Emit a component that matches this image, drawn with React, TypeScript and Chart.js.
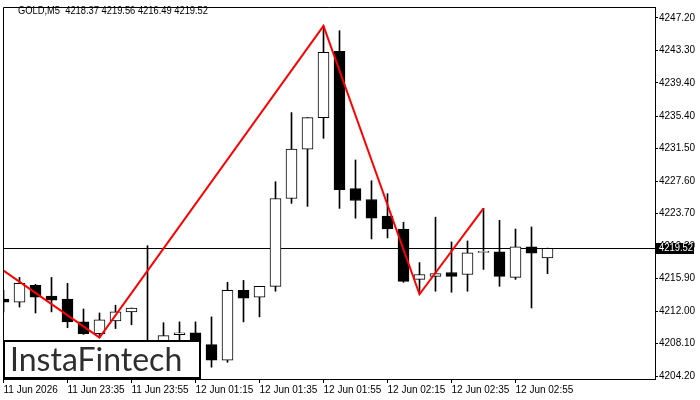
import React, { useEffect, useRef } from 'react';
import { Chart, registerables } from 'chart.js';

Chart.register(...registerables);

const symbol = 'GOLD,M5';

// OHLC, one candle every 5 minutes (index 0 = 11 Jun 23:15)
const opens = [
  4213.43, 4213.08, 4215.09, 4213.79, 4213.43, 4210.7, 4209.29, 4210.83, 4211.9, 4207.6,
  4208.3, 4209.17, 4209.4, 4207.98, 4206.09, 4214.5, 4213.67, 4214.97, 4225.52, 4231.44,
  4235.23, 4243.17, 4226.7, 4225.4, 4223.4, 4221.85, 4215.8, 4216.16, 4216.63, 4216.39,
  4219.04, 4219.12, 4216.04, 4219.7, 4218.37,
];
const highs = [
  4214.5, 4216.04, 4215.2, 4216.04, 4215.33, 4212.25, 4211.77, 4212.7, 4212.37, 4219.85,
  4210.6, 4210.7, 4210.7, 4211.3, 4215.45, 4215.68, 4214.97, 4227.53, 4235.83, 4235.23,
  4246.25, 4245.66, 4230.14, 4227.65, 4226.1, 4222.67, 4217.82, 4223.27, 4220.3, 4220.42,
  4224.33, 4222.9, 4221.85, 4222.1, 4219.56,
];
const lows = [
  4211.9, 4212.48, 4211.77, 4211.9, 4210.0, 4209.2, 4208.8, 4209.9, 4210.35, 4205.9,
  4207.5, 4207.8, 4207.4, 4205.26, 4205.85, 4210.7, 4211.3, 4214.38, 4224.93, 4224.57,
  4232.74, 4224.33, 4223.15, 4220.66, 4220.78, 4215.45, 4214.14, 4214.38, 4214.26, 4214.38,
  4217.0, 4214.97, 4215.8, 4212.37, 4216.49,
];
const closes = [
  4213.08, 4215.33, 4213.67, 4213.31, 4210.7, 4209.3, 4210.94, 4211.9, 4212.37, 4207.9,
  4209.05, 4209.4, 4208.2, 4206.09, 4214.5, 4213.55, 4214.97, 4225.52, 4231.44, 4235.23,
  4243.05, 4226.58, 4225.28, 4223.15, 4221.85, 4215.57, 4216.39, 4216.51, 4216.16, 4219.0,
  4219.16, 4216.16, 4219.7, 4218.96, 4219.52,
];

// Red zigzag pattern pivots
const zigzagIndex = [0, 6, 20, 26, 30];
const zigzagPrice = [4216.87, 4208.81, 4246.25, 4214.02, 4224.33];

// Axis ticks
const xTickIndex = [0, 4, 8, 12, 16, 20, 24, 28, 32];
const xTickLabels = [
  '11 Jun 2026', '11 Jun 23:35', '11 Jun 23:55', '12 Jun 01:15', '12 Jun 01:35',
  '12 Jun 01:55', '12 Jun 02:15', '12 Jun 02:35', '12 Jun 02:55',
];
const yTickValues = [
  4204.2, 4208.1, 4212.0, 4215.9, 4219.8, 4223.7, 4227.6, 4231.5, 4235.4, 4239.4, 4243.3, 4247.2,
];
const logoText = 'InstaFintech';

const FONT = '"Liberation Sans", Arial, sans-serif';

export default function App() {
  const ref = useRef<HTMLCanvasElement | null>(null);

  useEffect(() => {
    if (!ref.current) return;
    const n = closes.length;
    const last = n - 1;
    const titleText = `${symbol}  ${opens[last].toFixed(2)} ${highs[last].toFixed(2)} ${lows[last].toFixed(2)} ${closes[last].toFixed(2)}`;

    const overlay = {
      id: 'overlay',
      beforeDatasetsDraw(chart: any) {
        const { ctx, chartArea: a, scales } = chart;
        const py = Math.round(scales.y.getPixelForValue(closes[last])) + 0.5;
        ctx.save();
        ctx.strokeStyle = '#000';
        ctx.lineWidth = 1;
        ctx.beginPath();
        ctx.moveTo(a.left, py);
        ctx.lineTo(a.right, py);
        ctx.stroke();
        ctx.restore();
      },
      afterDraw(chart: any) {
        const { ctx, chartArea: a, scales } = chart;
        ctx.save();
        // frame top / left
        ctx.strokeStyle = '#000';
        ctx.lineWidth = 1;
        ctx.beginPath();
        ctx.moveTo(a.left + 0.5, a.bottom);
        ctx.lineTo(a.left + 0.5, a.top + 0.5);
        ctx.lineTo(a.right, a.top + 0.5);
        ctx.stroke();

        // title
        ctx.fillStyle = '#000';
        ctx.font = `10px ${FONT}`;
        ctx.textBaseline = 'middle';
        ctx.textAlign = 'left';
        ctx.fillText(titleText, 18, 11, 190);

        // price label
        const py = Math.round(scales.y.getPixelForValue(closes[last]));
        ctx.fillStyle = '#000';
        ctx.fillRect(656, py - 5, 38, 11);
        ctx.fillStyle = '#fff';
        ctx.fillText(closes[last].toFixed(2), 659, py + 0.5, 34);

        // logo box
        ctx.fillStyle = '#fff';
        ctx.fillRect(4, 341, 196, 37);
        ctx.strokeStyle = '#000';
        ctx.lineWidth = 2;
        ctx.strokeRect(4, 341, 196, 37);
        ctx.fillStyle = '#2e2e2e';
        ctx.font = `32px Lato, "Open Sans", sans-serif`;
        ctx.textBaseline = 'alphabetic';
        ctx.fillText(logoText, 10, 371, 173);
        ctx.restore();
      },
    };

    const chart = new Chart(ref.current, {
      type: 'bar',
      data: {
        datasets: [
          {
            type: 'line',
            data: zigzagIndex.map((x, i) => ({ x, y: zigzagPrice[i] })),
            borderColor: '#ff0000',
            borderWidth: 2,
            pointRadius: 0,
            tension: 0,
            fill: false,
            order: 0,
            clip: 0,
          } as any,
          {
            type: 'bar',
            data: closes.map((c, i) => ({ x: i, y: [opens[i], c] })),
            backgroundColor: closes.map((c, i) => (c >= opens[i] ? '#ffffff' : '#000000')),
            borderColor: '#000',
            borderWidth: 1,
            borderSkipped: false,
            barThickness: 11,
            grouped: false,
            order: 1,
            clip: 0,
          } as any,
          {
            type: 'bar',
            data: closes.map((_, i) => ({ x: i, y: [lows[i], highs[i]] })),
            backgroundColor: '#000',
            borderWidth: 0,
            barThickness: 1,
            grouped: false,
            order: 2,
            clip: 0,
          } as any,
        ],
      },
      options: {
        responsive: false,
        animation: false,
        events: [],
        layout: { padding: { left: 3, top: 3, right: 0, bottom: 0 } },
        plugins: { legend: { display: false }, tooltip: { enabled: false } },
        scales: {
          x: {
            type: 'linear',
            offset: false,
            min: -0.03125,
            max: 40.71875,
            afterBuildTicks: (s: any) => {
              s.ticks = xTickIndex.map((v) => ({ value: v }));
            },
            afterFit: (s: any) => {
              s.height = 21;
            },
            ticks: {
              autoSkip: false,
              maxRotation: 0,
              align: 'start',
              padding: 1,
              color: '#000',
              font: { family: FONT, size: 10 },
              callback: (v: any) => {
                const k = xTickIndex.indexOf(Number(v));
                return k >= 0 ? xTickLabels[k] : '';
              },
            },
            grid: { drawOnChartArea: false, tickLength: 4, color: '#000', offset: false },
            border: { color: '#000' },
          },
          y: {
            type: 'linear',
            position: 'right',
            min: 4203.844,
            max: 4248.507,
            afterBuildTicks: (s: any) => {
              s.ticks = yTickValues.map((v) => ({ value: v }));
            },
            afterFit: (s: any) => {
              s.width = 45;
            },
            ticks: {
              padding: 1,
              color: '#000',
              font: { family: FONT, size: 10 },
              callback: (v: any) => Number(v).toFixed(2),
            },
            grid: { drawOnChartArea: false, tickLength: 3, color: '#000' },
            border: { color: '#000' },
          },
        },
      } as any,
      plugins: [overlay],
    });
    return () => chart.destroy();
  }, []);

  return (
    <div style={{ position: 'fixed', left: 0, top: 0, width: 700, height: 400, background: '#fff' }}>
      <canvas ref={ref} width={700} height={400} style={{ width: 700, height: 400 }} />
    </div>
  );
}
